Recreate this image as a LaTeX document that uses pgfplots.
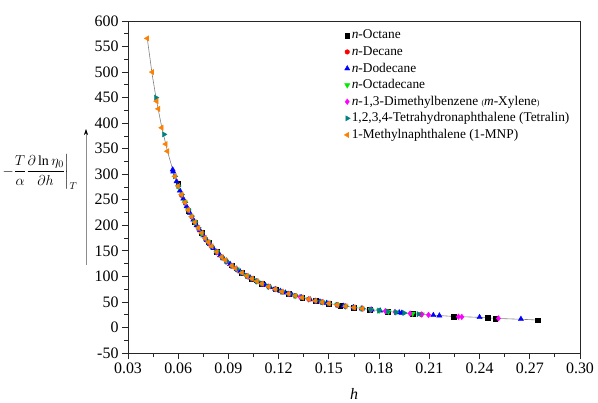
\documentclass[border=0pt]{standalone}
\usepackage{amsmath}
\usepackage{fontspec}
\setmainfont{Liberation Serif}
\usepackage{pgfplots}
\pgfplotsset{compat=1.18}
\usetikzlibrary{arrows.meta,calc}
\definecolor{cgreen}{RGB}{0,235,0}
\definecolor{cmag}{RGB}{255,0,255}
\definecolor{cteal}{RGB}{0,128,128}
\definecolor{corange}{RGB}{255,128,0}
\begin{document}
\begin{tikzpicture}
\path[use as bounding box] (-128bp,-50bp) rectangle (470bp,353bp);
\begin{axis}[
  name=ax, at={(0,0)}, anchor=south west,
  scale only axis, width=452bp, height=332bp,
  xmin=0.03, xmax=0.30, ymin=-50, ymax=600,
  xtick={0.03,0.06,0.09,0.12,0.15,0.18,0.21,0.24,0.27,0.30},
  ytick={-50,0,50,100,150,200,250,300,350,400,450,500,550,600},
  minor x tick num=1, minor y tick num=1,
  scaled x ticks=false,
  tick pos=left, tick align=outside,
  major tick length=6bp, minor tick length=3.5bp,
  axis line style={line width=0.9bp, black!85},
  every tick/.style={line width=0.8bp, black!85},
  /pgf/number format/assume math mode=true,
  xticklabel style={/pgf/number format/fixed, /pgf/number format/fixed zerofill, /pgf/number format/precision=2},
  ticklabel style={font=\fontsize{16}{18}\selectfont},
  xlabel={\textit{h}},
  xlabel style={font=\fontsize{16}{18}\selectfont, at={(axis description cs:0.5,-0.124)}, anchor=center, inner sep=0pt},
  legend cell align=left,
  legend style={at={(axis description cs:0.478,0.98)}, anchor=north west, draw=none, fill=none,
    font=\fontsize{13.4}{14}\selectfont, row sep=1.6bp, inner sep=0pt,
    nodes={inner sep=1.5bp, text height=9.5bp, text depth=2.5bp}},
]
\addplot[forget plot, gray, line width=0.6bp] coordinates {
(0.0415,566) (0.0445,494) (0.047,444.5) (0.050,394.6) (0.0535,346) (0.0567,309) (0.060,277) (0.064,244.6) (0.068,217.5) (0.072,194.7) (0.076,175.4) (0.080,158.8) (0.086,138.1) (0.092,121.2) (0.098,107.2) (0.104,95.6) (0.110,85.7) (0.118,74.9) (0.126,65.9) (0.134,58.5) (0.142,52.3) (0.150,47.0) (0.160,41.5) (0.170,36.9) (0.180,33.1) (0.190,29.8) (0.200,27.0) (0.210,24.5) (0.224,21.7) (0.240,19.8) (0.251,17.6) (0.265,16.0) (0.275,14.6)};
\addplot[only marks, mark=square*, mark size=2.4bp, black] coordinates {
(0.0600,281) (0.0660,229) (0.0700,206) (0.0740,185) (0.0780,167) (0.0830,148) (0.0920,122) (0.0980,107) (0.1040,95) (0.1100,86) (0.1180,75) (0.1260,66) (0.1340,58.7) (0.1420,52.3) (0.1500,47.2) (0.1567,43.0) (0.1650,39.1) (0.1746,35.1) (0.1850,31.4) (0.2000,27.0) (0.2244,21.5) (0.2447,18.6) (0.2493,17.8) (0.2748,14.2)};
\addlegendentry{\textit{n}-Octane}
\addplot[only marks, mark=*, mark size=2.3bp, red] coordinates {
(0.0620,259) (0.0660,230) (0.0700,206) (0.0740,185) (0.0800,158) (0.0890,129) (0.0920,121) (0.1010,101) (0.1070,90) (0.1140,80) (0.1220,70) (0.1300,62) (0.1380,55.3) (0.1460,49.5) (0.1550,44.2) (0.1650,39.0) (0.1750,34.9) (0.1850,31.4) (0.2050,25.7)};
\addlegendentry{\textit{n}-Decane}
\addplot[only marks, mark=triangle*, mark size=3bp, blue] coordinates {
(0.0567,309) (0.0570,305) (0.0590,286) (0.0610,268) (0.0630,252) (0.0650,237) (0.0670,224) (0.0690,211) (0.0710,200) (0.0730,190) (0.0750,180) (0.0770,171) (0.0790,163) (0.0810,155) (0.0830,148) (0.0850,141) (0.0870,135) (0.0890,129) (0.0910,124) (0.0930,119) (0.0950,114) (0.0970,109.5) (0.0990,105) (0.1030,97.4) (0.1070,90.4) (0.1120,82.8) (0.1150,78.7) (0.1180,74.9) (0.1210,71.3) (0.1240,68.0) (0.1278,64.2) (0.1338,58.7) (0.1388,54.7) (0.1447,50.5) (0.1487,47.8) (0.1587,42.2) (0.1647,39.2) (0.1697,37.0) (0.1756,34.7) (0.1806,32.9) (0.1920,29.2) (0.1936,28.7) (0.2124,24.0) (0.2160,23.2) (0.2400,20.0) (0.2647,16.5)};
\addlegendentry{\textit{n}-Dodecane}
\addplot[only marks, mark=triangle*, mark options={rotate=180}, mark size=3bp, cgreen] coordinates {
(0.0600,276) (0.0640,245) (0.0660,230) (0.0700,206) (0.0740,184) (0.0780,167) (0.0830,148) (0.0880,132) (0.0950,114) (0.1010,101) (0.1070,90) (0.1140,80) (0.1220,70) (0.1300,62.1) (0.1380,55.3) (0.1460,49.6) (0.1550,44.2) (0.1600,41.5) (0.1697,37) (0.1750,34.9) (0.1800,33.1) (0.1856,31.2) (0.1900,29.8) (0.2000,27) (0.2055,25.6)};
\addlegendentry{\textit{n}-Octadecane}
\addplot[only marks, mark=diamond*, mark size=2.8bp, cmag] coordinates {
(0.0640,244) (0.0660,230) (0.0680,217) (0.0720,194) (0.0760,175) (0.0790,163) (0.0830,147) (0.0860,138) (0.0890,129) (0.0920,121) (0.0950,114) (0.1010,101) (0.1040,95.6) (0.1100,85.7) (0.1140,80) (0.1180,74.9) (0.1220,70.2) (0.1260,66) (0.1328,59.6) (0.1380,55.3) (0.1420,52.3) (0.1460,49.6) (0.1500,47) (0.1550,44.2) (0.1600,41.5) (0.1650,39.1) (0.1700,36.9) (0.1750,34.9) (0.1837,31.9) (0.1896,29.9) (0.1985,27.4) (0.2055,25.6) (0.2095,24.6) (0.2274,21.0) (0.2294,20.7) (0.2513,17.8)};
\addlegendentry{\textit{n}-1,3-Dimethylbenzene {\footnotesize(}\textit{m}-Xylene{\footnotesize)}}
\addplot[only marks, mark=triangle*, mark options={rotate=-90}, mark size=3bp, cteal] coordinates {
(0.0467,450) (0.0515,378) (0.0580,296) (0.0600,277) (0.0620,260) (0.0640,245) (0.0660,230) (0.0680,218) (0.0700,206) (0.0720,195) (0.0740,185) (0.0760,175) (0.0780,167) (0.0800,159) (0.0830,148) (0.0860,138) (0.0890,129) (0.0920,121) (0.0950,114) (0.0980,107) (0.1010,101) (0.1040,95.6) (0.1070,90.4) (0.1100,86) (0.1140,80) (0.1180,74.9) (0.1220,70) (0.1260,65.9) (0.1300,62.1) (0.1340,58.5) (0.1420,52.3) (0.1460,49.6) (0.1500,47) (0.1550,44.2) (0.1600,41.5) (0.1650,39) (0.1700,36.9) (0.1750,34.9) (0.1800,33) (0.1850,31.4) (0.1900,29.8) (0.1950,28.3) (0.2035,26.1)};
\addlegendentry{1,2,3,4-Tetrahydronaphthalene (Tetralin)}
\addplot[only marks, mark=triangle*, mark options={rotate=90}, mark size=3bp, corange] coordinates {
(0.0415,566) (0.0445,500) (0.0471,443) (0.0481,428) (0.0501,391) (0.0525,359) (0.0535,345) (0.0580,296) (0.0600,277) (0.0620,260) (0.0640,245) (0.0660,230) (0.0680,217) (0.0700,206) (0.0720,195) (0.0740,185) (0.0760,175) (0.0780,167) (0.0800,159) (0.0830,148) (0.0860,138) (0.0880,132) (0.0920,121) (0.0940,116) (0.0980,107) (0.1010,101) (0.1040,95.6) (0.1070,90.4) (0.1100,85.7) (0.1140,80) (0.1180,74.9) (0.1220,70.2) (0.1260,66) (0.1300,62.1) (0.1340,58.5) (0.1380,55.3) (0.1420,52.3) (0.1460,49.6) (0.1500,47) (0.1550,44.2) (0.1600,41.5) (0.1650,39.1) (0.1700,36.9)};
\addlegendentry{1-Methylnaphthalene (1-MNP)}
\end{axis}
\node[font=\fontsize{14}{16}\selectfont, inner sep=0pt] at ($(ax.south west)+(-88bp,181bp)$)
  {$-\dfrac{T}{\alpha}\dfrac{\partial\ln\eta_0}{\partial h}\bigg|_{T}$};
\draw[black!45, line width=0.6bp, -{Stealth[length=6bp,width=4bp,color=black]}]
  ($(ax.south west)+(-42bp,88bp)$) -- ($(ax.south west)+(-42bp,224bp)$);
\end{tikzpicture}
\end{document}
